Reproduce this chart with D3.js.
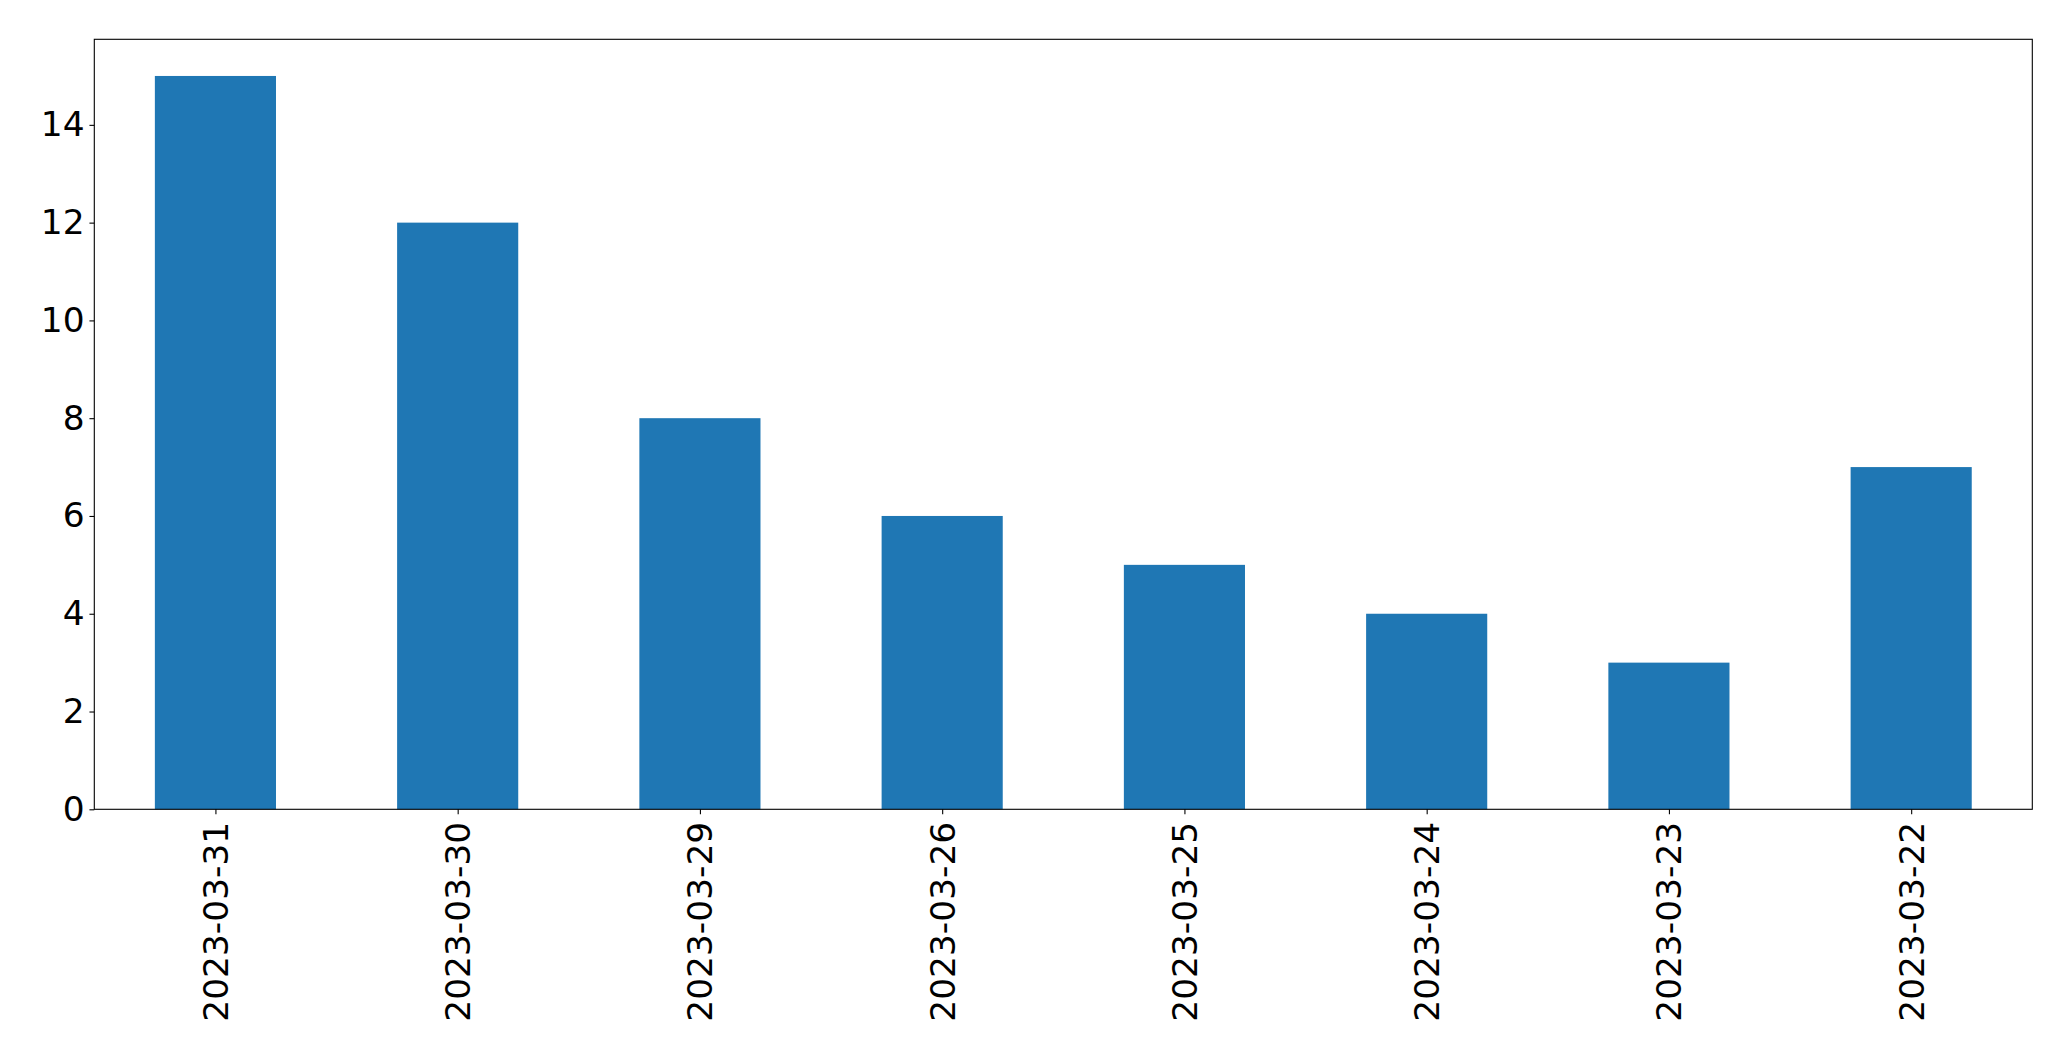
<!DOCTYPE html>
<html><head><meta charset="utf-8">
<script src="https://cdn.jsdelivr.net/npm/d3@7"></script>
<style>body{margin:0;background:#fff}svg{display:block}</style>
</head><body>
<script>
const categories = ["2023-03-31","2023-03-30","2023-03-29","2023-03-26","2023-03-25","2023-03-24","2023-03-23","2023-03-22"];
const values = [15, 12, 8, 6, 5, 4, 3, 7];
const yTicks = [0, 2, 4, 6, 8, 10, 12, 14];

const W = 2071, H = 1061;
const m = {left: 94.3, right: 2032.3, top: 39.3, bottom: 809.3};
const svg = d3.select("body").append("svg").attr("width", W).attr("height", H);

const n = categories.length;
const x = d3.scaleLinear().domain([-0.5, n - 0.5]).range([m.left, m.right]);
const y = d3.scaleLinear().domain([0, d3.max(values) * 1.05]).range([m.bottom, m.top]);
const barW = 0.5;

svg.append("g").selectAll("rect").data(values).join("rect")
  .attr("x", (d, i) => x(i - barW / 2))
  .attr("width", (d, i) => x(i + barW / 2) - x(i - barW / 2))
  .attr("y", d => y(d))
  .attr("height", d => y(0) - y(d))
  .attr("fill", "#1f77b4");

const font = "DejaVu Sans";
const fs = 34.4;

const yAxis = svg.append("g").attr("transform", `translate(${m.left},0)`)
  .call(d3.axisLeft(y).tickValues(yTicks).tickSize(4.86).tickPadding(4.86).tickFormat(d3.format("d")));
yAxis.select(".domain").remove();
yAxis.selectAll("text").attr("font-family", font).attr("font-size", fs).attr("fill", "#000");
yAxis.selectAll("line").attr("stroke", "#000").attr("stroke-width", 1.1);

const xAxis = svg.append("g").attr("transform", `translate(0,${m.bottom})`)
  .call(d3.axisBottom(x).tickValues(d3.range(n)).tickSize(4.86).tickPadding(4.86).tickFormat(i => categories[i]));
xAxis.select(".domain").remove();
xAxis.selectAll("line").attr("stroke", "#000").attr("stroke-width", 1.1);
xAxis.selectAll("text")
  .attr("font-family", font).attr("font-size", fs).attr("fill", "#000")
  .attr("transform", "rotate(-90)")
  .attr("text-anchor", "end")
  .attr("x", -12.5)
  .attr("y", 0)
  .attr("dy", "0.35em");

svg.append("rect")
  .attr("x", m.left).attr("y", m.top)
  .attr("width", m.right - m.left).attr("height", m.bottom - m.top)
  .attr("fill", "none").attr("stroke", "#000").attr("stroke-width", 1.1);
</script>
</body></html>
